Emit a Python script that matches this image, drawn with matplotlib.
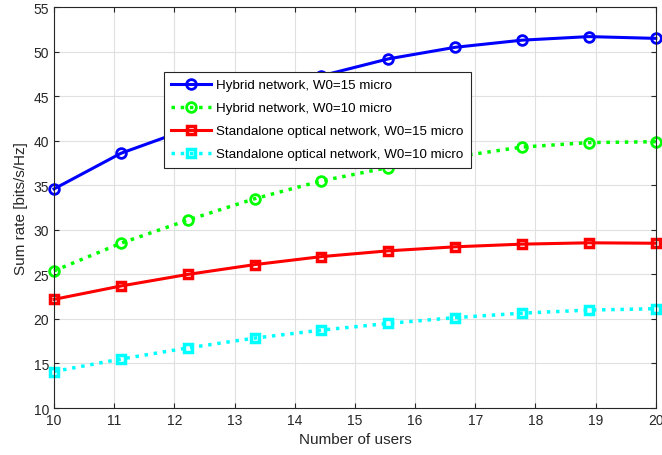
import matplotlib.pyplot as plt
import numpy as np

plt.rcParams['font.family'] = ['Liberation Sans', 'DejaVu Sans']

users = np.linspace(10, 20, 10)
hybrid_15 = [34.6, 38.6, 41.3, 44.2, 47.3, 49.2, 50.5, 51.3, 51.7, 51.5]
hybrid_10 = [25.4, 28.5, 31.1, 33.5, 35.5, 37.0, 38.2, 39.3, 39.8, 39.9]
optical_15 = [22.2, 23.7, 25.0, 26.1, 27.0, 27.65, 28.1, 28.4, 28.55, 28.5]
optical_10 = [14.1, 15.5, 16.75, 17.85, 18.75, 19.5, 20.15, 20.65, 21.0, 21.15]

fig = plt.figure(figsize=(6.62, 4.56), dpi=100)
ax = fig.add_axes([0.0816, 0.103, 0.909, 0.879])

ax.plot(users, hybrid_15, '-o', color='#0000ff', lw=2.2, ms=7, mfc='none', mew=2,
        label='Hybrid network, W0=15 micro', clip_on=False)
ax.plot(users, hybrid_10, ':o', color='#00ff00', lw=2.5, ms=7, mfc='none', mew=2,
        label='Hybrid network, W0=10 micro', clip_on=False)
ax.plot(users, optical_15, '-s', color='#ff0000', lw=2.2, ms=6, mfc='none', mew=2.5,
        label='Standalone optical network, W0=15 micro', clip_on=False)
ax.plot(users, optical_10, ':s', color='#00ffff', lw=2.5, ms=6, mfc='none', mew=2.5,
        label='Standalone optical network, W0=10 micro', clip_on=False)

ax.set_xlim(10, 20)
ax.set_ylim(10, 55)
ax.set_xticks(np.arange(10, 21, 1))
ax.set_yticks(np.arange(10, 56, 5))
ax.grid(True, color='#e0e0e0', lw=0.8)
ax.set_axisbelow(True)
ax.tick_params(direction='in', top=True, right=True, labelsize=10, colors='#262626')
for s in ax.spines.values():
    s.set_color('#262626')
ax.set_xlabel('Number of users', fontsize=11, color='#262626')
ax.set_ylabel('Sum rate [bits/s/Hz]', fontsize=11, color='#262626')

leg = ax.legend(loc='upper left', bbox_to_anchor=(0.183, 0.839), fontsize=9.6,
                fancybox=False, framealpha=1, edgecolor='#262626', handlelength=3,
                borderpad=0.55, labelspacing=0.8, handletextpad=0.35,
                borderaxespad=0)
leg.get_frame().set_linewidth(0.8)

fig.savefig('out.png', dpi=100)
